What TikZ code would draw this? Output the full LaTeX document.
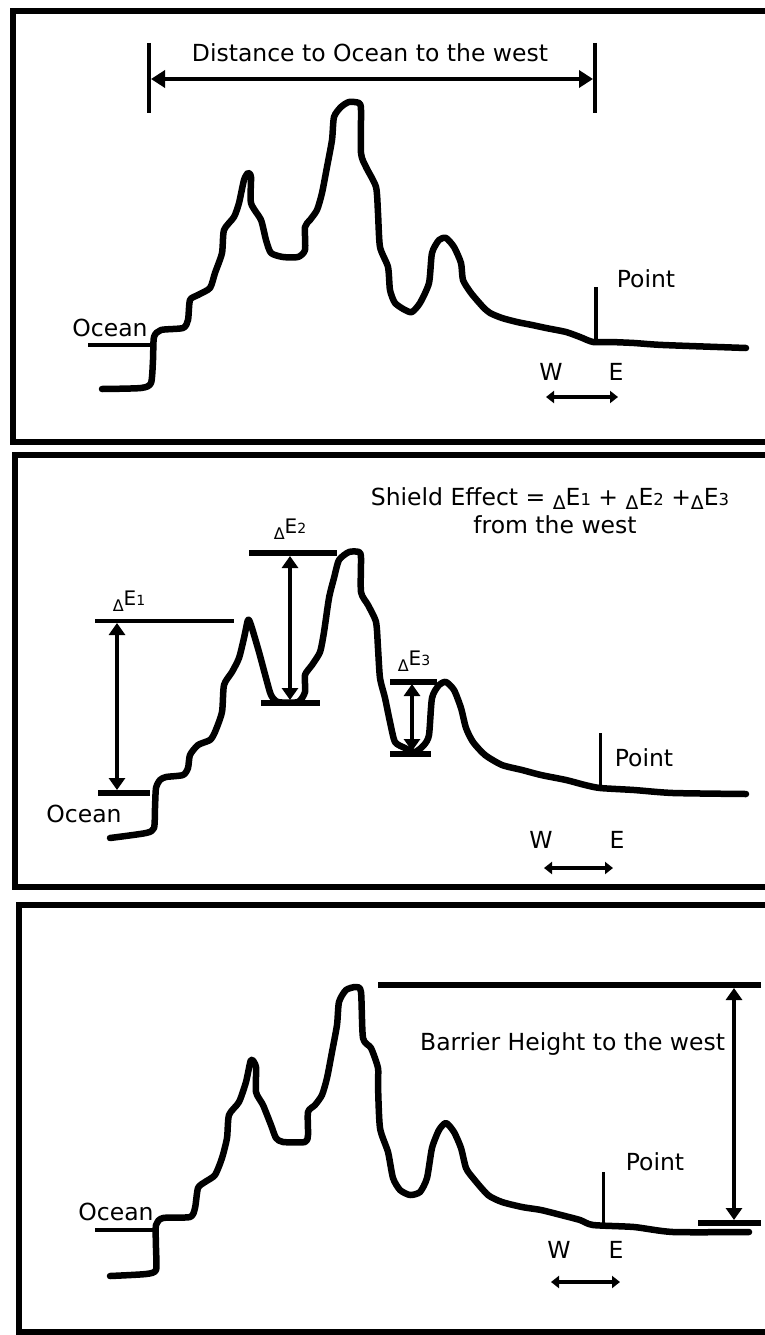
\documentclass[tikz,border=0pt]{standalone}
\usepackage{fontspec}
\setmainfont{DejaVu Sans}
\usetikzlibrary{arrows.meta}
% #1 font size, #2 lowering of the delta, #3 digit
\newcommand{\myDE}[3]{{\fontsize{#1}{#1}\selectfont\raisebox{-#2}{\scalebox{0.8}{Δ}}E\scalebox{0.7}{#3}}}
\tikzset{
  frame/.style={line width=6pt},
  terrain/.style={line width=6.5pt, line join=round, line cap=round},
  bar/.style={line width=6.5pt},
  thinbar/.style={line width=3.5pt},
  ptline/.style={line width=3pt},
  lbl/.style={font=\fontsize{23.5}{26}\selectfont, inner sep=0pt},
  small/.style={inner sep=0pt},
  bigarr/.style={line width=4.5pt, {Triangle[length=14pt,width=17pt]}-{Triangle[length=14pt,width=17pt]}},
  darr/.style={line width=4.5pt, {Triangle[length=12pt,width=16pt]}-{Triangle[length=12pt,width=16pt]}},
  wearr/.style={line width=3.5pt, {Triangle[length=8pt,width=12pt]}-{Triangle[length=8pt,width=12pt]}}
}
\begin{document}
\begin{tikzpicture}[x=1pt,y=-1pt]
\useasboundingbox (0,0) rectangle (765,1335);
\fill[white] (0,0) rectangle (765,1335);
% ---------------- frames
\draw[frame] (790,11) -| (13,442) -- (790,442);
\draw[frame] (790,455) -| (15,887) -- (790,887);
\draw[frame] (790,905) -| (19,1332) -- (790,1332);

% ================= TOP PANEL
\coordinate (t1a) at (149,43); \coordinate (t1b) at (149,113);
\coordinate (t2a) at (595,43); \coordinate (t2b) at (595,113);
\draw[line width=4.5pt] (t1a) -- (t1b);
\draw[line width=4.5pt] (t2a) -- (t2b);
\coordinate (dl) at (151,79); \coordinate (dr) at (593,79);
\draw[bigarr] (dl) -- (dr);
\node[lbl, anchor=base] (dist) at (370,62) {Distance to Ocean to the west};

\draw[terrain] plot[smooth, tension=0.4] coordinates {
(102,389) (141,388) (151,383) (153,360) (154,337) (161,330) (183,328) (188,320) (190,300) (198,295) (210,288) (215,273) (222,253) (224,230) (234,217) (239,203) (244,180) (248,173) (251,177) (251,203) (261,220) (266,240) (271,253) (283,257) (298,257) (305,250) (305,227) (310,220) (317,210) (322,193) (327,167) (332,140) (334,117) (341,107) (349,102) (359,103) (361,110) (361,153) (366,167) (376,187) (378,213) (380,247) (388,267) (390,290) (395,303) (405,310) (412,312) (420,303) (429,283) (432,253) (439,240) (446,238) (454,247) (461,263) (463,280) (471,293) (483,307) (490,313) (502,318) (517,322) (532,325) (546,328) (566,332) (580,337) (593,342) (610,342) (634,343) (663,345) (746,348)};
\coordinate (tw1) at (88,345); \coordinate (tw2) at (153,345);
\draw[line width=4.5pt] (tw1) -- (tw2);
\node[lbl, anchor=base] (tocean) at (110,336) {Ocean};
\coordinate (tpa) at (596,287); \coordinate (tpb) at (596,342);
\draw[line width=4.5pt] (tpa) -- (tpb);
\node[lbl, anchor=base] (tpoint) at (646,287) {Point};
\node[lbl, anchor=base] (tW) at (551,380) {W};
\node[lbl, anchor=base] (tE) at (616,380) {E};
\coordinate (twa) at (546,397); \coordinate (twb) at (618,397);
\draw[wearr] (twa) -- (twb);

% ================= MIDDLE PANEL
\node[lbl, anchor=base] (shield) at (550,505) {Shield Effect = \myDE{23.5}{4pt}{1} + \myDE{23.5}{4pt}{2} +\myDE{23.5}{4pt}{3}};
\node[lbl, anchor=base] (fromw) at (555,533) {from the west};

\draw[terrain] plot[smooth, tension=0.4] coordinates {
(110,838) (146,833) (154,828) (155,808) (156,788) (160,780) (166,777) (183,775) (188,768) (190,755) (198,745) (210,740) (215,732) (222,712) (224,685) (232,672) (239,658) (244,638) (248,620) (251,625) (259,652) (266,678) (271,695) (278,702) (298,702) (305,692) (305,675) (312,665) (320,652) (324,632) (329,598) (334,578) (339,560) (349,552) (359,552) (361,558) (361,592) (368,605) (376,622) (378,648) (380,678) (385,698) (390,722) (395,742) (405,748) (415,752) (424,745) (429,735) (432,698) (439,685) (446,682) (454,690) (461,708) (466,728) (473,742) (485,755) (502,765) (522,770) (541,775) (566,780) (585,785) (600,788) (634,790) (673,793) (746,794)};

% Delta E1
\coordinate (e1l) at (95,621); \coordinate (e1r) at (234,621);
\draw[thinbar] (e1l) -- (e1r);
\coordinate (e1bl) at (98,793); \coordinate (e1br) at (150,793);
\draw[bar] (e1bl) -- (e1br);
\coordinate (e1t) at (117,623); \coordinate (e1b) at (117,790);
\draw[darr] (e1t) -- (e1b);
\node[small, anchor=base] (le1) at (129,605) {\myDE{20}{6pt}{1}};
% Delta E2
\coordinate (e2l) at (249,553); \coordinate (e2r) at (337,553);
\draw[bar] (e2l) -- (e2r);
\coordinate (e2bl) at (261,703); \coordinate (e2br) at (320,703);
\draw[bar] (e2bl) -- (e2br);
\coordinate (e2t) at (290,556); \coordinate (e2b) at (290,700);
\draw[darr] (e2t) -- (e2b);
\node[small, anchor=base] (le2) at (290,533) {\myDE{20}{6pt}{2}};
% Delta E3
\coordinate (e3l) at (390,682); \coordinate (e3r) at (437,682);
\draw[bar, line width=5.5pt] (e3l) -- (e3r);
\coordinate (e3bl) at (390,754); \coordinate (e3br) at (431,754);
\draw[bar, line width=5.5pt] (e3bl) -- (e3br);
\coordinate (e3t) at (412,684); \coordinate (e3b) at (412,751);
\draw[darr] (e3t) -- (e3b);
\node[small, anchor=base] (le3) at (414,665) {\myDE{20}{6pt}{3}};

\node[lbl, anchor=base] (mocean) at (84,822) {Ocean};
\coordinate (mpa) at (600,733); \coordinate (mpb) at (600,787);
\draw[ptline] (mpa) -- (mpb);
\node[lbl, anchor=base] (mpoint) at (644,766) {Point};
\node[lbl, anchor=base] (mW) at (541,848) {W};
\node[lbl, anchor=base] (mE) at (617,848) {E};
\coordinate (mwa) at (544,868); \coordinate (mwb) at (613,868);
\draw[wearr] (mwa) -- (mwb);

% ================= BOTTOM PANEL
\draw[terrain] plot[smooth, tension=0.4] coordinates {
(110,1276) (146,1274) (156,1270) (156,1248) (156,1225) (163,1218) (190,1217) (195,1208) (198,1188) (205,1182) (215,1175) (222,1158) (227,1138) (229,1115) (239,1102) (246,1082) (251,1060) (256,1067) (256,1092) (263,1105) (271,1125) (276,1138) (283,1142) (305,1142) (308,1135) (308,1112) (315,1105) (322,1095) (327,1078) (332,1052) (337,1025) (339,1002) (346,990) (356,987) (361,992) (363,1038) (371,1048) (378,1068) (378,1085) (380,1128) (388,1152) (393,1178) (400,1190) (410,1195) (420,1192) (427,1178) (432,1148) (439,1130) (446,1123) (454,1132) (461,1148) (466,1168) (473,1178) (488,1195) (502,1202) (522,1207) (541,1210) (561,1215) (580,1220) (593,1225) (634,1227) (673,1232) (749,1232)};
\coordinate (bw1) at (95,1230); \coordinate (bw2) at (158,1230);
\draw[line width=4.5pt] (bw1) -- (bw2);
\node[lbl, anchor=base] (bocean) at (116,1220) {Ocean};

\coordinate (bhl) at (378,985); \coordinate (bhr) at (761,985);
\draw[bar] (bhl) -- (bhr);
\coordinate (bbl) at (698,1223); \coordinate (bbr) at (761,1223);
\draw[bar] (bbl) -- (bbr);
\node[lbl, anchor=base west] (barrier) at (420,1050) {Barrier Height to the west};
\coordinate (bat) at (734,988); \coordinate (bab) at (734,1220);
\draw[darr] (bat) -- (bab);

\coordinate (bpa) at (603,1172); \coordinate (bpb) at (603,1226);
\draw[ptline] (bpa) -- (bpb);
\node[lbl, anchor=base] (bpoint) at (655,1170) {Point};
\node[lbl, anchor=base] (bW) at (559,1258) {W};
\node[lbl, anchor=base] (bE) at (616,1258) {E};
\coordinate (bwa) at (551,1282); \coordinate (bwb) at (620,1282);
\draw[wearr] (bwa) -- (bwb);
\end{tikzpicture}
\end{document}
